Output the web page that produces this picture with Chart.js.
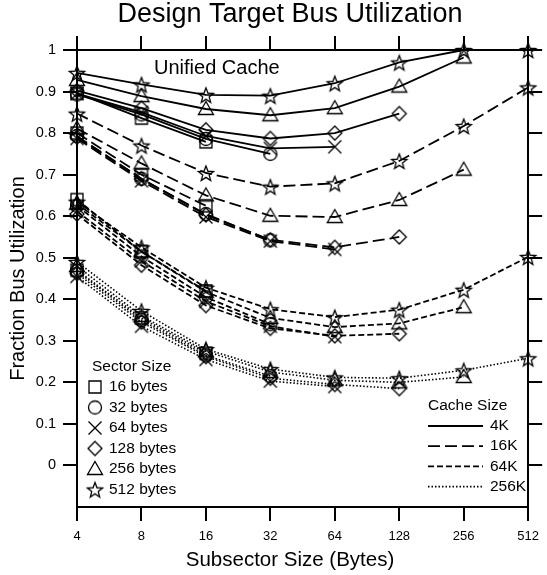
<!DOCTYPE html>
<html>
<head>
<meta charset="utf-8">
<script src="https://cdn.jsdelivr.net/npm/chart.js@4/dist/chart.umd.min.js"></script>
<style>
  html, body { margin: 0; padding: 0; background: #fff; }
  #wrap { width: 547px; height: 575px; }
</style>
</head>
<body>
<div id="wrap"><canvas id="Chart-1" width="547" height="575"></canvas></div>
<script>
const subsectors = [4, 8, 16, 32, 64, 128, 256, 512];
const yTicks = [0, 0.1, 0.2, 0.3, 0.4, 0.5, 0.6, 0.7, 0.8, 0.9, 1];
const sectorSizes = ['16 bytes', '32 bytes', '64 bytes', '128 bytes', '256 bytes', '512 bytes'];
const cacheSizes = ['4K', '16K', '64K', '256K'];

// one row per sector size (16 .. 512 bytes), one value per subsector size
const util4K = [
  [0.896, 0.836, 0.779],
  [0.893, 0.845, 0.786, 0.750],
  [0.895, 0.850, 0.793, 0.763, 0.767],
  [0.902, 0.860, 0.808, 0.787, 0.800, 0.847],
  [0.928, 0.889, 0.858, 0.843, 0.860, 0.912, 0.982],
  [0.945, 0.917, 0.892, 0.890, 0.920, 0.970, 1.000, 1.000]
];
const util16K = [
  [0.800, 0.700, 0.625],
  [0.793, 0.690, 0.605, 0.542],
  [0.787, 0.685, 0.598, 0.540, 0.520],
  [0.790, 0.690, 0.603, 0.543, 0.525, 0.550],
  [0.811, 0.727, 0.650, 0.601, 0.598, 0.639, 0.712],
  [0.847, 0.770, 0.704, 0.671, 0.679, 0.733, 0.817, 0.910]
];
const util64K = [
  [0.640, 0.515, 0.420],
  [0.625, 0.503, 0.405, 0.340],
  [0.612, 0.492, 0.395, 0.335, 0.310],
  [0.605, 0.482, 0.385, 0.330, 0.312, 0.317],
  [0.630, 0.515, 0.418, 0.355, 0.333, 0.342, 0.381],
  [0.635, 0.525, 0.428, 0.376, 0.357, 0.375, 0.423, 0.502]
];
const util256K = [
  [0.470, 0.355, 0.270],
  [0.468, 0.350, 0.265, 0.215],
  [0.455, 0.335, 0.255, 0.203, 0.190],
  [0.462, 0.345, 0.262, 0.210, 0.195, 0.185],
  [0.480, 0.360, 0.275, 0.225, 0.205, 0.200, 0.213],
  [0.490, 0.372, 0.280, 0.232, 0.212, 0.210, 0.229, 0.258]
];

const FONT = "'Liberation Sans', Arial, sans-serif";
const markerShapes = ['square', 'circle', 'x', 'diamond', 'triangle', 'star'];
const dashes = [[], [12, 5], [6, 3], [1.5, 2]];

// hollow black markers, drawn once into small canvases
function makeMarker(shape) {
  const s = 20, m = s / 2;
  const c = document.createElement('canvas');
  c.width = c.height = s;
  const g = c.getContext('2d');
  g.strokeStyle = '#000';
  g.lineWidth = 1.3;
  g.beginPath();
  if (shape === 'square') {
    g.rect(m - 6, m - 6, 12, 12);
  } else if (shape === 'circle') {
    g.arc(m, m, 6.5, 0, Math.PI * 2);
  } else if (shape === 'x') {
    g.moveTo(m - 6.5, m - 6.5); g.lineTo(m + 6.5, m + 6.5);
    g.moveTo(m + 6.5, m - 6.5); g.lineTo(m - 6.5, m + 6.5);
  } else if (shape === 'diamond') {
    g.moveTo(m, m - 7); g.lineTo(m + 7, m); g.lineTo(m, m + 7); g.lineTo(m - 7, m);
    g.closePath();
  } else if (shape === 'triangle') {
    g.moveTo(m, m - 7.5); g.lineTo(m + 7.5, m + 5.5); g.lineTo(m - 7.5, m + 5.5);
    g.closePath();
  } else if (shape === 'star') {
    for (let i = 0; i < 10; i++) {
      const r = i % 2 ? 3.4 : 8;
      const a = -Math.PI / 2 + i * Math.PI / 5;
      const px = m + r * Math.cos(a), py = m + 1 + r * Math.sin(a);
      i ? g.lineTo(px, py) : g.moveTo(px, py);
    }
    g.closePath();
  }
  g.stroke();
  return c;
}
const markers = markerShapes.map(makeMarker);

const datasets = [];
[util4K, util16K, util64K, util256K].forEach((table, ci) => {
  table.forEach((row, si) => {
    datasets.push({
      label: cacheSizes[ci] + ' / ' + sectorSizes[si],
      data: row.map((v, i) => ({ x: subsectors[i], y: v })),
      borderColor: '#000',
      borderWidth: ci === 3 ? 1.6 : 1.8,
      borderDash: dashes[ci],
      pointStyle: markers[si],
      pointRadius: 8,
      backgroundColor: 'transparent',
      tension: 0,
      clip: false
    });
  });
});

const setTicks = (list) => (scale) => { scale.ticks = list.map(v => ({ value: v })); };
const gridOpts = { drawOnChartArea: false, color: '#000', lineWidth: 2, tickLength: 14 };
const borderOpts = { color: '#000', width: 2 };

const textPlugin = {
  id: 'texts',
  afterDraw(chart) {
    const ctx = chart.ctx;
    ctx.save();
    ctx.fillStyle = '#000';
    ctx.textBaseline = 'middle';

    ctx.font = '27px ' + FONT;
    ctx.textAlign = 'center';
    ctx.fillText('Design Target Bus Utilization', 290, 15);

    ctx.font = '20.5px ' + FONT;
    ctx.fillText('Subsector Size (Bytes)', 290, 560);

    ctx.font = '20px ' + FONT;
    ctx.textAlign = 'left';
    ctx.fillText('Unified Cache', 154, 68);

    // sector size key
    ctx.font = '15.5px ' + FONT;
    ctx.fillText('Sector Size', 92, 367);
    sectorSizes.forEach((lab, i) => {
      const y = 387 + i * 20.5;
      ctx.drawImage(markers[i], 95 - 10, y - 10);
      ctx.fillText(lab, 109, y);
    });

    // cache size key
    ctx.fillText('Cache Size', 428, 406);
    cacheSizes.forEach((lab, i) => {
      const y = 426 + i * 20.2;
      ctx.beginPath();
      ctx.setLineDash(dashes[i]);
      ctx.lineWidth = 1.8;
      ctx.strokeStyle = '#000';
      ctx.moveTo(428, y);
      ctx.lineTo(483, y);
      ctx.stroke();
      ctx.fillText(lab, 490, y);
    });
    ctx.restore();
  }
};

new Chart(document.getElementById('Chart-1'), {
  type: 'line',
  data: { datasets },
  options: {
    responsive: false,
    animation: false,
    layout: { padding: 0 },
    plugins: { legend: { display: false }, tooltip: { enabled: false }, title: { display: false } },
    scales: {
      x: {
        type: 'logarithmic', position: 'bottom', min: 4, max: 512,
        afterBuildTicks: setTicks(subsectors),
        afterFit: (s) => { s.height = 68; },
        grid: gridOpts, border: borderOpts,
        ticks: { color: '#000', padding: 8, font: { family: FONT, size: 13 }, callback: (v) => String(v), maxRotation: 0, autoSkip: false }
      },
      x2: {
        type: 'logarithmic', position: 'top', min: 4, max: 512,
        afterBuildTicks: setTicks(subsectors),
        afterFit: (s) => { s.height = 50; },
        grid: gridOpts, border: borderOpts,
        ticks: { display: false }
      },
      y: {
        type: 'linear', position: 'left', min: -0.1, max: 1,
        afterBuildTicks: setTicks(yTicks),
        afterFit: (s) => { s.width = 77; },
        grid: gridOpts, border: borderOpts,
        ticks: { color: '#000', padding: 7, font: { family: FONT, size: 14.5 }, callback: (v) => String(Math.round(v * 10) / 10) },
        title: { display: true, text: 'Fraction Bus Utilization', color: '#000', font: { family: FONT, size: 20 }, padding: { top: 6, bottom: 0 } }
      },
      y2: {
        type: 'linear', position: 'right', min: -0.1, max: 1,
        afterBuildTicks: setTicks(yTicks),
        afterFit: (s) => { s.width = 14; },
        grid: gridOpts, border: borderOpts,
        ticks: { display: false }
      }
    }
  },
  plugins: [textPlugin]
});
</script>
</body>
</html>
